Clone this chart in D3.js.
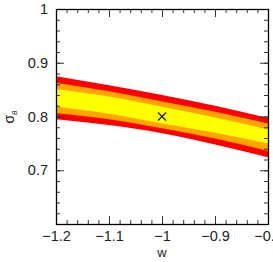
<!DOCTYPE html>
<meta charset="utf-8">
<html lang="en">

<head>
    <title>sigma8 vs w</title>
    <script src="https://d3js.org/d3.v7.min.js"></script>
    <style>
        body { margin: 0; background: #fff; }
        text { font-family: "Liberation Sans", Arial, sans-serif; fill: #222; }
    </style>
</head>

<body>
    <div id="chart"></div>
    <script>
        const wValues = [-1.2, -1.1, -1.0, -0.9, -0.8];

        // outer (red) band
        const redUpper = [0.875, 0.858, 0.840, 0.820, 0.797];
        const redLower = [0.795, 0.784, 0.769, 0.748, 0.724];
        // middle (orange) band
        const orangeUpper = [0.863, 0.847, 0.828, 0.809, 0.787];
        const orangeLower = [0.806, 0.795, 0.778, 0.759, 0.736];
        // inner (yellow) band
        const yellowUpper = [0.851, 0.837, 0.818, 0.798, 0.776];
        const yellowLower = [0.818, 0.805, 0.787, 0.770, 0.750];

        // fiducial point
        const bestFit = [{ w: -1.0, s8: 0.8 }];

        const xTicks = [-1.2, -1.1, -1.0, -0.9, -0.8];
        const yTicks = [0.6, 0.7, 0.8, 0.9, 1.0];

        const width = 273,
            height = 262;
        const plotLeft = 56, plotRight = 268, plotTop = 9, plotBottom = 224;

        const svg = d3.select("#chart")
            .append("svg")
            .attr("width", width)
            .attr("height", height);

        const x = d3.scaleLinear().domain([-1.2, -0.8]).range([plotLeft, plotRight]);
        const y = d3.scaleLinear().domain([0.6, 1.0]).range([plotBottom, plotTop]);

        svg.append("clipPath")
            .attr("id", "plot-clip")
            .append("rect")
            .attr("x", plotLeft)
            .attr("y", plotTop)
            .attr("width", plotRight - plotLeft)
            .attr("height", plotBottom - plotTop);

        function bandRows(upper, lower) {
            return wValues.map((w, i) => ({ w: w, hi: upper[i], lo: lower[i] }));
        }

        const area = d3.area()
            .x((d) => x(d.w))
            .y0((d) => y(d.lo))
            .y1((d) => y(d.hi))
            .curve(d3.curveMonotoneX);

        const bands = [
            { rows: bandRows(redUpper, redLower), color: "#ff0000" },
            { rows: bandRows(orangeUpper, orangeLower), color: "#ffa500" },
            { rows: bandRows(yellowUpper, yellowLower), color: "#ffff00" }
        ];

        const plot = svg.append("g").attr("clip-path", "url(#plot-clip)");
        plot.selectAll("path.band")
            .data(bands)
            .enter()
            .append("path")
            .attr("class", "band")
            .attr("d", (d) => area(d.rows))
            .attr("fill", (d) => d.color);

        // best fit cross
        const cross = svg.selectAll("g.cross")
            .data(bestFit)
            .enter()
            .append("g")
            .attr("transform", (d) => `translate(${x(d.w)},${y(d.s8)})`);
        cross.append("path")
            .attr("d", "M-4,-4L4,4M-4,4L4,-4")
            .attr("stroke", "#111")
            .attr("stroke-width", 1.1);

        // ticks, all pointing inwards
        const xMinor = d3.range(0, 21).map((i) => -1.2 + i * 0.02);
        const yMinor = d3.range(0, 21).map((i) => 0.6 + i * 0.02);
        const tickColor = "#333";

        function drawTicks(g) {
            g.selectAll(".domain").remove();
            g.selectAll(".tick line").attr("stroke", tickColor);
        }

        svg.append("g").attr("transform", `translate(0,${plotBottom})`)
            .call(d3.axisBottom(x).tickValues(xMinor).tickSize(-4).tickFormat(""))
            .call(drawTicks);
        svg.append("g").attr("transform", `translate(0,${plotTop})`)
            .call(d3.axisTop(x).tickValues(xMinor).tickSize(-4).tickFormat(""))
            .call(drawTicks);
        svg.append("g").attr("transform", `translate(${plotLeft},0)`)
            .call(d3.axisLeft(y).tickValues(yMinor).tickSize(-4).tickFormat(""))
            .call(drawTicks);
        svg.append("g").attr("transform", `translate(${plotRight},0)`)
            .call(d3.axisRight(y).tickValues(yMinor).tickSize(-4).tickFormat(""))
            .call(drawTicks);

        const xAxis = svg.append("g").attr("transform", `translate(0,${plotBottom})`)
            .call(d3.axisBottom(x).tickValues(xTicks).tickSize(-8).tickPadding(7)
                .tickFormat((d) => (d < 0 ? "\u2212" : "") + Math.abs(d)))
            .call(drawTicks);
        xAxis.selectAll("text").attr("font-size", 14.5).attr("fill", "#222");

        svg.append("g").attr("transform", `translate(0,${plotTop})`)
            .call(d3.axisTop(x).tickValues(xTicks).tickSize(-8).tickFormat(""))
            .call(drawTicks);

        const yAxis = svg.append("g").attr("transform", `translate(${plotLeft},0)`)
            .call(d3.axisLeft(y).tickValues(yTicks).tickSize(-8).tickPadding(8)
                .tickFormat((d) => (d === 0.6 ? "" : String(d))))
            .call(drawTicks);
        yAxis.selectAll("text").attr("font-size", 14.5).attr("fill", "#222");

        svg.append("g").attr("transform", `translate(${plotRight},0)`)
            .call(d3.axisRight(y).tickValues(yTicks).tickSize(-8).tickFormat(""))
            .call(drawTicks);

        // frame
        svg.append("rect")
            .attr("x", plotLeft + 0.5)
            .attr("y", plotTop + 0.5)
            .attr("width", plotRight - plotLeft)
            .attr("height", plotBottom - plotTop)
            .attr("fill", "none")
            .attr("stroke", "#000")
            .attr("stroke-width", 1.3);

        // axis titles
        svg.append("text")
            .attr("x", (plotLeft + plotRight) / 2)
            .attr("y", 257)
            .attr("text-anchor", "middle")
            .attr("font-size", 13)
            .text("w");

        const yLabel = svg.append("text")
            .attr("transform", "translate(14,117) rotate(-90)")
            .attr("text-anchor", "middle")
            .attr("font-size", 14);
        yLabel.append("tspan").text("\u03c3");
        yLabel.append("tspan").attr("font-size", 8).attr("dy", 3).text("8");
    </script>
</body>

</html>
